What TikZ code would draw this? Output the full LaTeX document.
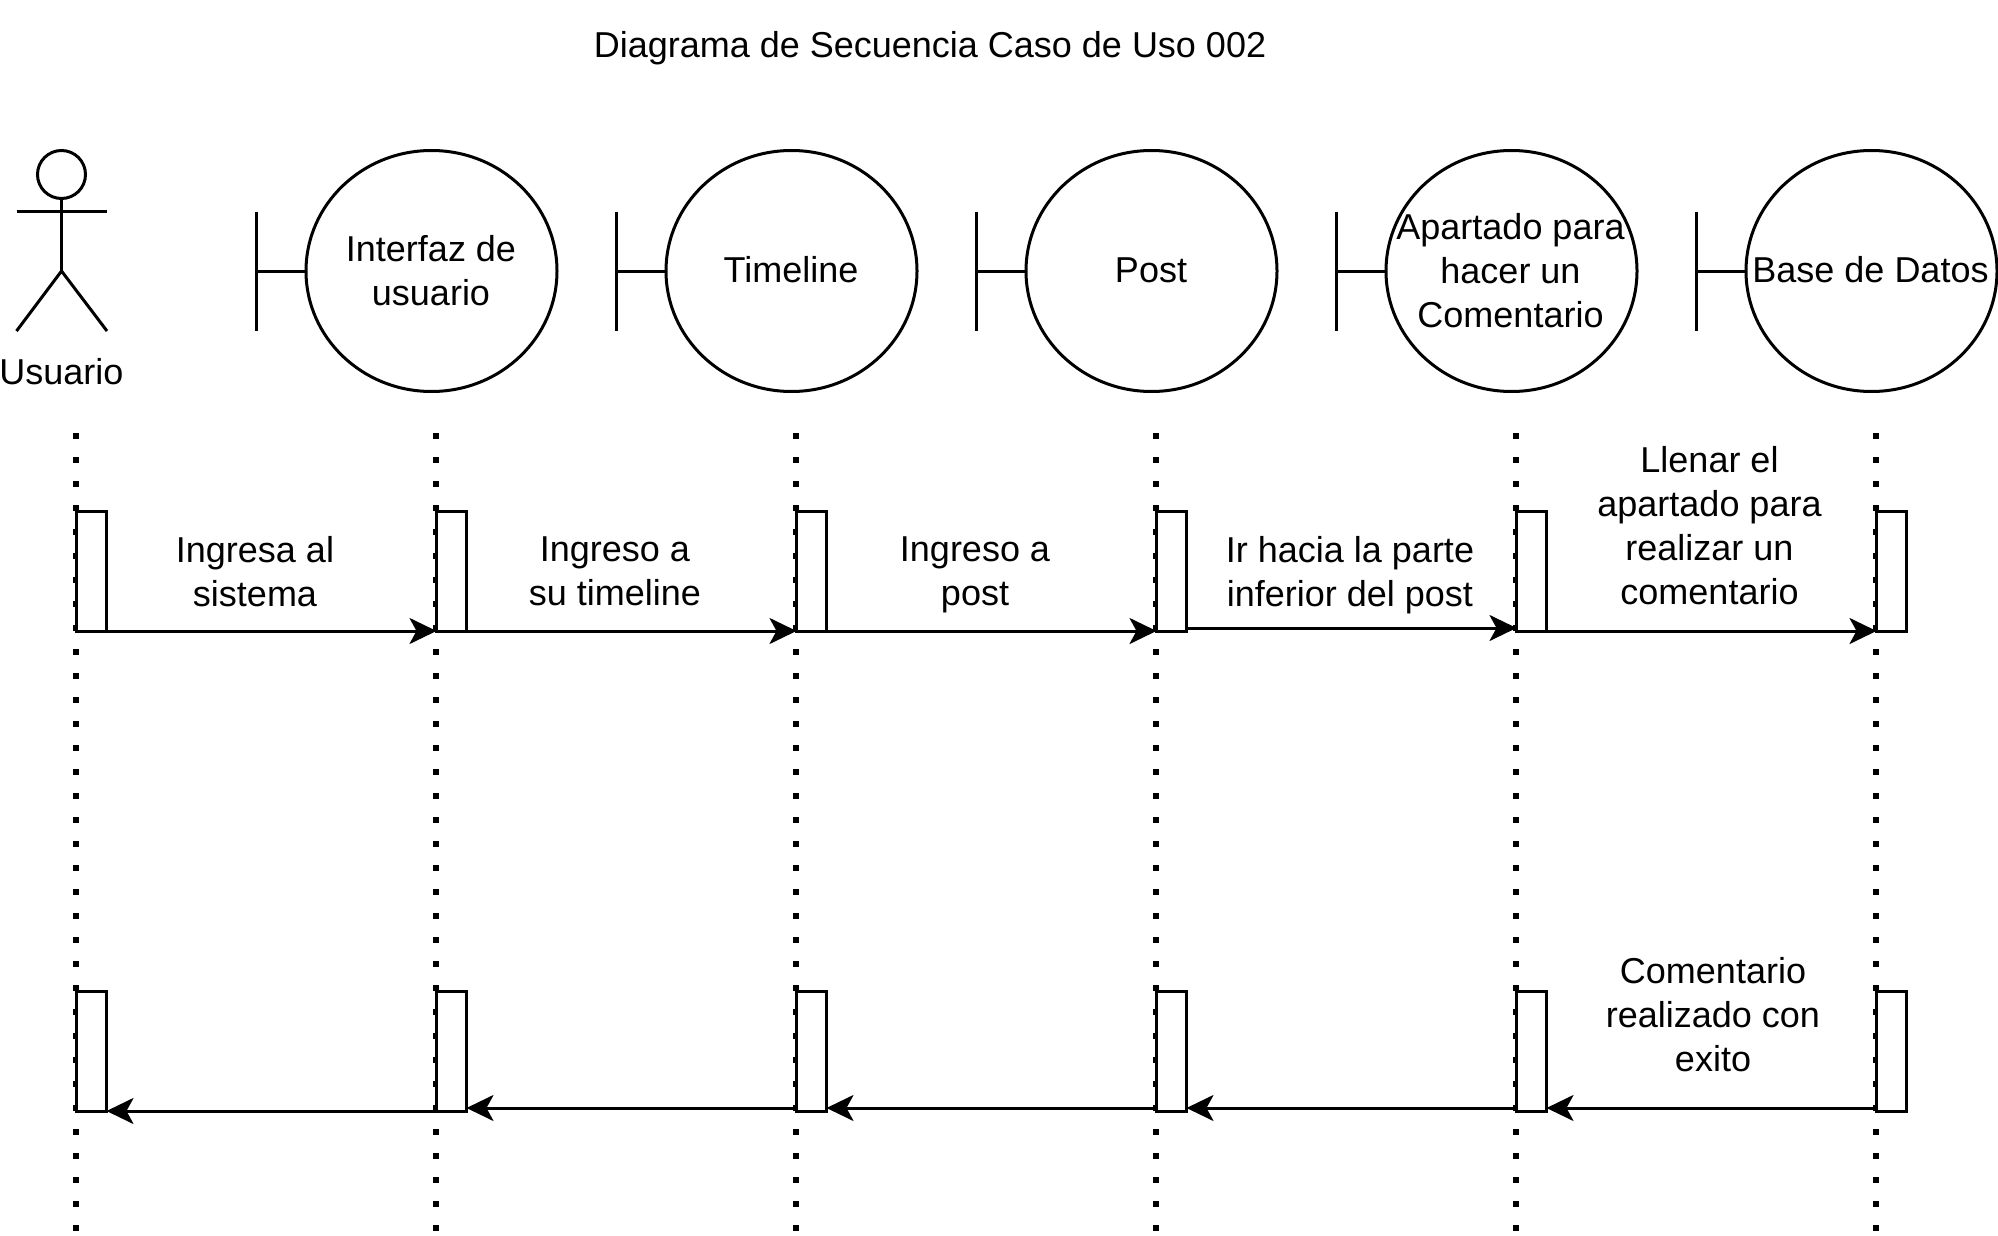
\documentclass[tikz,border=0pt]{standalone}
\usepackage{fontspec}
\setmainfont{Liberation Sans}
\usetikzlibrary{arrows.meta,shapes.geometric}
\tikzset{
  lbl/.style={align=center,inner sep=0pt,font=\fontsize{36}{44}\selectfont},
  ln/.style={line width=3pt,draw=black},
  ent/.style={ln,ellipse,minimum width=251pt,minimum height=241pt,inner sep=0pt,outer sep=0pt,fill=white},
  act/.style={ln,fill=white,rectangle,minimum width=30pt,minimum height=120pt,inner sep=0pt,outer sep=0pt},
  life/.style={line width=6pt,draw=black,dash pattern=on 6pt off 18pt},
  msg/.style={ln,-{Stealth[length=27pt,width=26pt,inset=7pt]}}
}
\begin{document}
\begin{tikzpicture}[x=1pt,y=-1pt]
\useasboundingbox (0,0) rectangle (1998,1236);
\node[lbl] (title) at (930,48) {Diagrama de Secuencia Caso de Uso 002};
% actor
\node[ln,circle,minimum size=48pt,inner sep=0pt,outer sep=0pt] (head) at (61.5,174.5) {};
\coordinate (hip) at (61.5,271);
\coordinate (armL) at (16.5,211.5);
\coordinate (armR) at (107,211.5);
\coordinate (footL) at (16.5,331);
\coordinate (footR) at (107,331);
\draw[ln] (head.south) -- (hip);
\draw[ln] (armL) -- (armR);
\draw[ln] (footL) -- (hip) -- (footR);
\node[lbl] (usuario) at (61.5,372) {Usuario};
% boundaries
\node[ent] (e1) at (431.5,271) {};
\node[ent] (e2) at (791.5,271) {};
\node[ent] (e3) at (1151.5,271) {};
\node[ent] (e4) at (1511.5,271) {};
\node[ent] (e5) at (1871.5,271) {};
\node[lbl] (t1) at (431,271) {Interfaz de\\usuario};
\node[lbl] (t2) at (791,270) {Timeline};
\node[lbl] (t3) at (1151,270) {Post};
\node[lbl] (t4) at (1510.5,271) {Apartado para\\hacer un\\Comentario};
\node[lbl] (t5) at (1870.5,270) {Base de Datos};
\foreach \n/\x in {1/256.5,2/616.5,3/976.5,4/1336.5,5/1696.5}{
  \coordinate (bt\n) at (\x,211.5);
  \coordinate (bb\n) at (\x,331);
  \coordinate (bm\n) at (\x,271);
  \draw[ln] (bt\n) -- (bb\n);
  \draw[ln] (bm\n) -- (e\n.west);
}
% lifelines
\foreach \n/\x in {0/76,1/436,2/796,3/1156,4/1516,5/1876}{
  \coordinate (lt\n) at (\x,433);
  \coordinate (lb\n) at (\x,1232);
  \draw[life] (lt\n) -- (lb\n);
  \node[act] (a\n) at (\x+15.5,571) {};
  \node[act] (r\n) at (\x+15.5,1051) {};
}
% calls
\draw[msg] (a0.south west) -- (a1.south west);
\draw[msg] (a1.south west) -- (a2.south west);
\draw[msg] (a2.south west) -- (a3.south west);
\draw[msg] ([yshift=3pt]a3.south east) -- ([yshift=3pt]a4.south west);
\draw[msg] (a4.south west) -- (a5.south west);
% returns
\draw[msg] (r1.south west) -- (r0.south east);
\draw[msg] ([yshift=3pt]r2.south west) -- ([yshift=3pt]r1.south east);
\draw[msg] ([yshift=3pt]r3.south west) -- ([yshift=3pt]r2.south east);
\draw[msg] ([yshift=3pt]r4.south west) -- ([yshift=3pt]r3.south east);
\draw[msg] ([yshift=3pt]r5.south west) -- ([yshift=3pt]r4.south east);
% labels
\node[lbl] (m1) at (255,571.5) {Ingresa al\\sistema};
\node[lbl] (m2) at (615,571.5) {Ingreso a\\su timeline};
\node[lbl] (m3) at (975,575) {Ingreso a\\post};
\node[lbl] (m4) at (1350,575) {Ir hacia la parte\\inferior del post};
\node[lbl] (m5) at (1709.5,526) {Llenar el\\apartado para\\realizar un\\comentario};
\node[lbl] (m6) at (1713,1015) {Comentario\\realizado con\\exito};
\end{tikzpicture}
\end{document}
